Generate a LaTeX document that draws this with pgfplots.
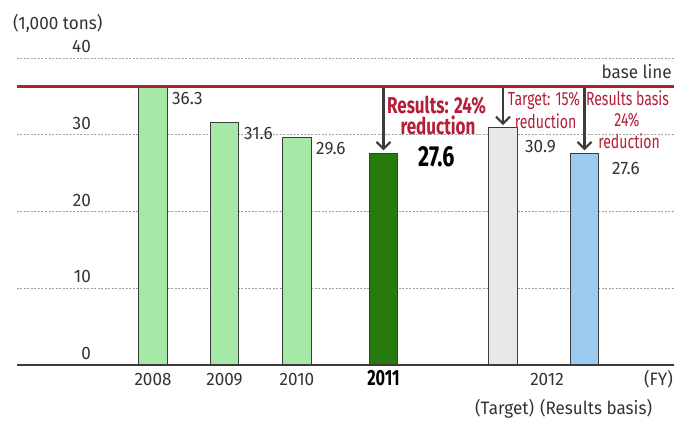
\documentclass[border=0pt]{standalone}
\usepackage{pgfplots}
\pgfplotsset{compat=1.18}
\usetikzlibrary{arrows.meta}
\usepackage{fontspec}
\setmainfont{Fira Sans}[FakeStretch=0.95]
\newfontfamily\cond{Fira Sans}[FakeStretch=0.74]

\definecolor{barlight}{HTML}{A6E8A6}
\definecolor{bardark}{HTML}{277A0E}
\definecolor{bargray}{HTML}{E8E8E6}
\definecolor{barblue}{HTML}{9CCBF2}
\definecolor{basered}{HTML}{B01F32}
\definecolor{annred}{HTML}{B41E38}
\definecolor{edgegray}{HTML}{3C3C3C}
\definecolor{gridgray}{HTML}{A0A0A0}
\definecolor{txtgray}{HTML}{333333}

\begin{document}
\begin{tikzpicture}
\begin{axis}[
  at={(0pt,0pt)}, anchor=south west,
  scale only axis, width=657pt, height=307pt,
  xmin=17, xmax=674, ymin=0, ymax=40,
  clip=false,
  axis x line=bottom, axis y line=left,
  x axis line style={-, draw=edgegray, line width=1.5pt},
  y axis line style={draw=none},
  major tick length=0pt,
  xtick={153,224.5,297,383.5,547},
  xticklabels={2008,2009,2010,{\cond\bfseries\fontsize{22}{22}\selectfont\color{black}2011},2012},
  xticklabel style={anchor=base, inner sep=0pt, yshift=-20pt},
  ytick={10,20,30,40},
  yticklabels={10,20,30,40},
  extra y ticks={0}, extra y tick labels={0},
  extra y tick style={grid=none},
  yticklabel style={anchor=base east, inner sep=0pt, xshift=74pt, yshift=5.5pt},
  ymajorgrids,
  grid style={dash pattern=on 2pt off 1.5pt, gridgray, line width=0.7pt},
  tick label style={text=txtgray},
  font=\fontsize{18}{20}\selectfont,
]
% bars
\addplot[ybar, bar width=28.5pt, bar shift=0pt, fill=barlight, draw=edgegray, line width=1.3pt]
  coordinates {(153,36.3) (224.5,31.6) (297,29.6)};
\addplot[ybar, bar width=28.5pt, bar shift=0pt, fill=bardark, draw=edgegray, line width=1.3pt]
  coordinates {(383.5,27.6)};
\addplot[ybar, bar width=28.5pt, bar shift=0pt, fill=bargray, draw=edgegray, line width=1.3pt]
  coordinates {(503,30.9)};
\addplot[ybar, bar width=28.5pt, bar shift=0pt, fill=barblue, draw=edgegray, line width=1.3pt]
  coordinates {(584.5,27.6)};

% base line
\addplot[basered, line width=2.3pt] coordinates {(17,36.3) (674,36.3)};

% arrows from the base line
\addplot[-{Straight Barb[length=7pt,width=14pt]}, edgegray, line width=2.2pt]
  coordinates {(383.5,36.1) (383.5,27.95)};
\addplot[-{Straight Barb[length=7pt,width=14pt]}, edgegray, line width=2.2pt]
  coordinates {(503,36.1) (503,31.25)};
\addplot[-{Straight Barb[length=7pt,width=14pt]}, edgegray, line width=2.2pt]
  coordinates {(584.5,36.1) (584.5,27.95)};

% labels
\node[anchor=west, inner sep=0pt, text=txtgray] at (axis cs:13,44.49) {(1,000 tons)};
\node[anchor=base east, inner sep=0pt, text=txtgray] at (axis cs:672,37.35) {base line};
\node[anchor=base east, inner sep=0pt, text=txtgray] at (axis cs:673,0) [yshift=-20pt] {(FY)};
\node[anchor=base west, inner sep=0pt, text=txtgray] at (axis cs:172,33.88) {36.3};
\node[anchor=base west, inner sep=0pt, text=txtgray] at (axis cs:244,29.32) {31.6};
\node[anchor=base west, inner sep=0pt, text=txtgray] at (axis cs:316,27.49) {29.6};
\node[anchor=base west, inner sep=0pt, text=txtgray] at (axis cs:525,27.75) {30.9};
\node[anchor=base west, inner sep=0pt, text=txtgray] at (axis cs:612,24.76) {27.6};
\node[anchor=base west, inner sep=0pt] at (axis cs:418,25.80)
  {\cond\bfseries\fontsize{29}{29}\selectfont 27.6};

\node[anchor=base, inner sep=0pt, text=annred] at (axis cs:436.5,32.79)
  {\cond\bfseries\fontsize{23}{23}\selectfont Results: 24\%};
\node[anchor=base, inner sep=0pt, text=annred] at (axis cs:438,29.97)
  {\cond\bfseries\fontsize{23}{23}\selectfont reduction};

\node[anchor=base, inner sep=0pt, text=annred] at (axis cs:544,33.75)
  {\cond\fontsize{19}{19}\selectfont Target: 15\%};
\node[anchor=base, inner sep=0pt, text=annred] at (axis cs:545.5,30.83)
  {\cond\fontsize{19}{19}\selectfont reduction};
\node[anchor=base, inner sep=0pt, text=annred] at (axis cs:627.5,33.75)
  {\cond\fontsize{19}{19}\selectfont Results basis};
\node[anchor=base, inner sep=0pt, text=annred] at (axis cs:627,31.05)
  {\cond\fontsize{19}{19}\selectfont 24\%};
\node[anchor=base, inner sep=0pt, text=annred] at (axis cs:629,28.2)
  {\cond\fontsize{19}{19}\selectfont reduction};

\node[anchor=base west, inner sep=0pt, text=txtgray] at (axis cs:475,0) [yshift=-49pt]
  {(Target)\hspace{6pt}(Results basis)};
\end{axis}
\pgfresetboundingbox
\path (-17pt,-56pt) rectangle (657pt,365pt);
\end{tikzpicture}
\end{document}
